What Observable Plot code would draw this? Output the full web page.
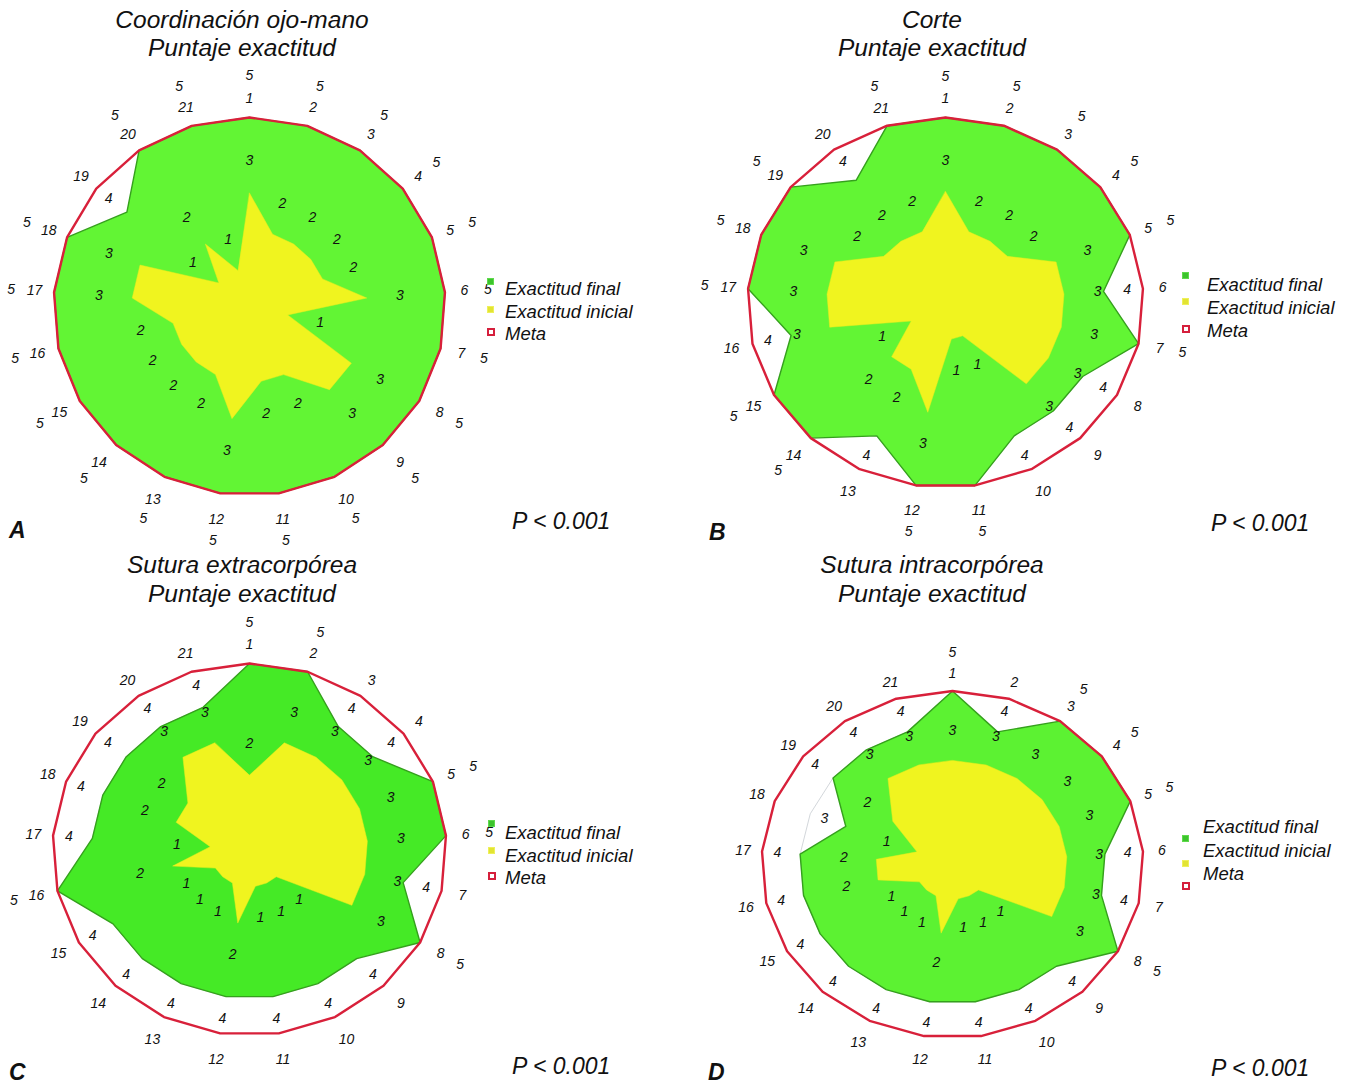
<!DOCTYPE html>
<html>
<head>
<meta charset="utf-8">
<script src="https://cdn.jsdelivr.net/npm/d3@7"></script>
<script src="https://cdn.jsdelivr.net/npm/@observablehq/plot@0.6"></script>
<style>
  body { margin: 0; background: #fff; }
  #page { position: relative; width: 1349px; height: 1086px; overflow: hidden;
          font-family: "Liberation Sans", Arial, sans-serif; color: #111; background: #fff; }
  .t { position: absolute; white-space: nowrap; font-style: italic; line-height: 1; }
  .sq { position: absolute; box-sizing: border-box; }
  svg.radar { position: absolute; }
</style>
</head>
<body>
<div id="page"></div>
<script>
// ---------------- data ----------------
const categories = ["1","2","3","4","5","6","7","8","9","10","11","12","13","14","15","16","17","18","19","20","21"];
const meta = [5,5,5,5,5,5,5,5,5,5,5,5,5,5,5,5,5,5,5,5,5];
const gridLevels = [1, 2, 3, 4];

const finalA   = [5,5,5,5,5,5,5,5,5,5,5,5,5,5,5,5,5,5,4,5,5];
const initialA = [3,2,2,2,2,3,1,3,3,2,2,3,2,2,2,2,3,3,1,2,1];

const finalB   = [5,5,5,5,5,4,5,4,4,4,5,5,4,5,5,4,5,5,5,4,5];
const initialB = [3,2,2,2,3,3,3,3,3,1,1,3,2,2,1,3,3,3,2,2,2];

const finalC   = [5,5,4,4,5,5,4,5,4,4,4,4,4,4,4,5,4,4,4,4,4];
const initialC = [2,3,3,3,3,3,3,3,1,1,1,2,1,1,1,2,1,2,2,3,3];

const finalD   = [5,4,5,5,5,4,4,5,4,4,4,4,4,4,4,4,4,3,4,4,4];
const initialD = [3,3,3,3,3,3,3,3,1,1,1,2,1,1,1,2,2,1,2,3,3];

const panelLetters = ["A", "B", "C", "D"];
const titleLines = [
  ["Coordinación ojo-mano", "Puntaje exactitud"],
  ["Corte", "Puntaje exactitud"],
  ["Sutura extracorpórea", "Puntaje exactitud"],
  ["Sutura intracorpórea", "Puntaje exactitud"]
];
const seriesNames = ["Exactitud final", "Exactitud inicial", "Meta"];
const pLabel = "P < 0.001";

// ---------------- layout (styles only) ----------------
const layout = [
  { cx: 249, cy: 306,   rx: 196, ry: 189,   green: "#62f534", titleX: 242, titleY: [20, 48],
    pos: [512, 521], letter: [9, 530],
    legend: { sqX: 487, sqY: [281.5, 309, 331.5], txX: 505, txY: [289, 312.5, 334] } },
  { cx: 945, cy: 302,   rx: 198, ry: 185,   green: "#62f534", titleX: 932, titleY: [20, 48],
    pos: [1211, 523], letter: [709, 532],
    legend: { sqX: 1182, sqY: [275, 301.5, 328], txX: 1207, txY: [285, 308, 331] } },
  { cx: 249, cy: 848.5, rx: 197, ry: 186,   green: "#45ea26", titleX: 242, titleY: [565, 594],
    pos: [512, 1066], letter: [9, 1072],
    legend: { sqX: 488, sqY: [823, 850, 875], txX: 505, txY: [833, 856, 878] } },
  { cx: 952, cy: 863.5, rx: 191, ry: 173.5, green: "#5cf232", titleX: 932, titleY: [565, 594],
    pos: [1211, 1068], letter: [708, 1072],
    legend: { sqX: 1182, sqY: [838, 863, 885], txX: 1203, txY: [827.5, 851.5, 874] } }
];
const panelData = [
  [finalA, initialA], [finalB, initialB], [finalC, initialC], [finalD, initialD]
];

// ---------------- drawing ----------------
const page = document.getElementById("page");
const n = categories.length;
const ang = i => 2 * Math.PI * i / n;
const X = d => d.r * Math.sin(d.a);
const Y = d => d.r * Math.cos(d.a);

function radar(finalV, initialV, g) {
  const W = 520, H = 500;
  const rings = gridLevels.flatMap(l => categories.map((c, i) => ({ r: l, a: ang(i), level: l })));
  const finalPts = finalV.map((v, i) => ({ r: v, a: ang(i) }));
  const initialPts = initialV.map((v, i) => ({ r: v, a: ang(i) }));
  const metaPts = meta.map((v, i) => ({ r: v, a: ang(i) }));
  const down = i => Math.max(0, -Math.cos(ang(i)));
  const labels = [
    ...categories.map((c, i) => ({ r: 5.5 + 0.2 * down(i), a: ang(i), text: c })),
    ...finalV.map((v, i) => ({ r: v >= 5 ? 6.1 + 0.15 * down(i) : v + 0.6, a: ang(i), text: String(v) })),
    ...initialV.map((v, i) => ({ r: v + 0.85, a: ang(i), text: String(v) }))
  ];
  const svg = Plot.plot({
    width: W, height: H, margin: 0,
    x: { domain: [-(W / 2) * 5 / g.rx, (W / 2) * 5 / g.rx], range: [0, W], axis: null },
    y: { domain: [-(H / 2) * 5 / g.ry, (H / 2) * 5 / g.ry], range: [H, 0], axis: null },
    style: { background: "transparent", overflow: "visible" },
    marks: [
      Plot.line(rings, { x: X, y: Y, z: "level", curve: "linear-closed", stroke: "#d3d7db", strokeWidth: 1 }),
      Plot.line(finalPts, { x: X, y: Y, curve: "linear-closed", fill: g.green, stroke: "#35a01d", strokeWidth: 1.4 }),
      Plot.line(initialPts, { x: X, y: Y, curve: "linear-closed", fill: "#f0f41f", stroke: "#e8ec1c", strokeWidth: 0.5 }),
      Plot.line(metaPts, { x: X, y: Y, curve: "linear-closed", stroke: "#d8203a", strokeWidth: 2.4 }),
      Plot.text(labels, { x: X, y: Y, text: "text", fontSize: 14, fontStyle: "italic",
                          fontFamily: "Liberation Sans, Arial, sans-serif", fill: "#111" })
    ]
  });
  svg.classList.add("radar");
  svg.style.left = (g.cx - W / 2) + "px";
  svg.style.top = (g.cy - H / 2) + "px";
  return svg;
}

function text(str, x, yCenter, size, opts = {}) {
  const d = document.createElement("div");
  d.className = "t";
  d.textContent = str;
  d.style.fontSize = size + "px";
  d.style.top = (yCenter - 0.49 * size) + "px";
  if (opts.center) {
    d.style.left = (x - 300) + "px";
    d.style.width = "600px";
    d.style.textAlign = "center";
  } else {
    d.style.left = x + "px";
  }
  if (opts.bold) d.style.fontWeight = "bold";
  page.appendChild(d);
}

function square(x, yc, kind) {
  const s = document.createElement("div");
  s.className = "sq";
  s.style.left = x + "px";
  s.style.top = (yc - 3.5) + "px";
  s.style.width = "7px";
  s.style.height = "7px";
  if (kind === 0) { s.style.background = "#3cc42c"; s.style.border = "1px solid #5fd94c"; }
  if (kind === 1) { s.style.background = "#e2e433"; s.style.border = "1px solid #eef05a"; }
  if (kind === 2) { s.style.background = "#fff"; s.style.border = "2px solid #d51f3c"; s.style.width = "8px"; s.style.height = "8px"; }
  page.appendChild(s);
}

layout.forEach((g, k) => {
  const [fv, iv] = panelData[k];
  page.appendChild(radar(fv, iv, g));
  text(titleLines[k][0], g.titleX, g.titleY[0], 24.5, { center: true });
  text(titleLines[k][1], g.titleX, g.titleY[1], 24.5, { center: true });
  text(pLabel, g.pos[0], g.pos[1], 23);
  text(panelLetters[k], g.letter[0], g.letter[1], 23, { bold: true });
  seriesNames.forEach((name, j) => {
    square(g.legend.sqX, g.legend.sqY[j], j);
    text(name, g.legend.txX, g.legend.txY[j], 18.5);
  });
});
</script>
</body>
</html>
